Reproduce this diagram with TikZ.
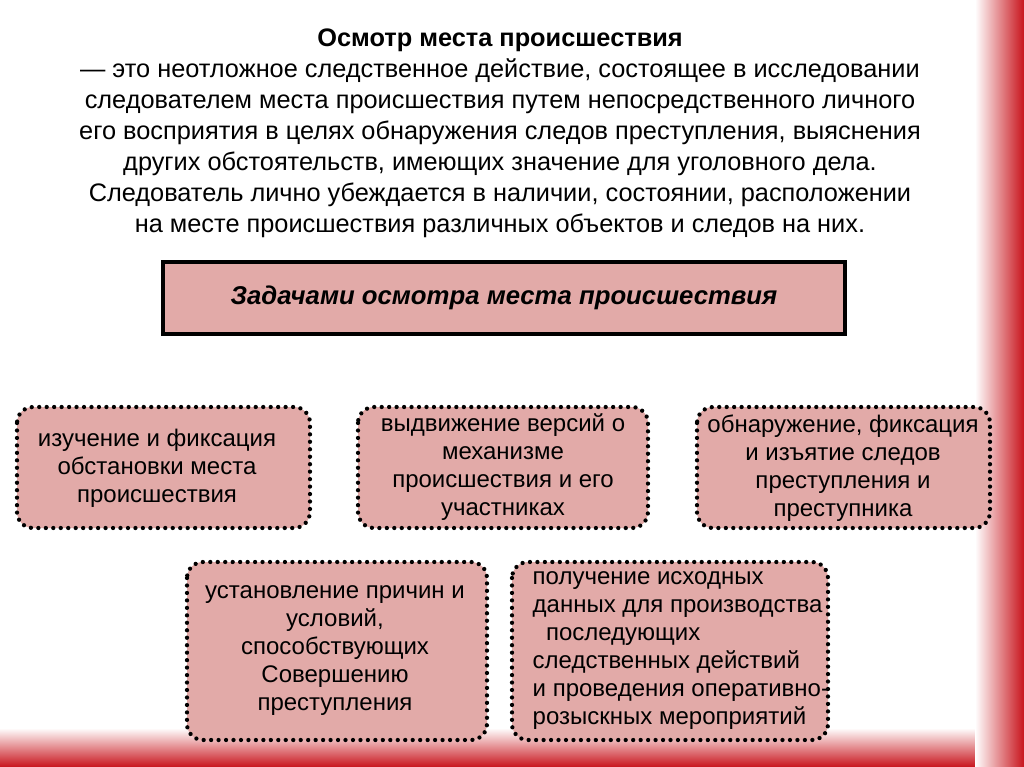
\documentclass[tikz,border=0pt]{standalone}
\usepackage{fontspec}
\setmainfont{Liberation Sans}
\begin{document}
\begin{tikzpicture}[x=0.75pt,y=-0.75pt,
  pinkfill/.style={fill=boxpink},
  dotbox/.style={pinkfill,draw=black,line width=3.2pt,dash pattern=on 0pt off 5.6pt,line cap=round,rounded corners=12pt},
  boxtext/.style={font=\fontsize{18}{21}\selectfont,align=center}]
\definecolor{boxpink}{HTML}{E2AAA8}
\definecolor{edgered}{HTML}{C8141C}
\useasboundingbox (0,0) rectangle (1024,767);
\fill[white] (0,0) rectangle (1024,767);
\shade[top color=white,bottom color=edgered] (0,728) rectangle (1024,767);
\shade[left color=white,right color=edgered] (975,0) rectangle (1024,767);
\node[font=\fontsize{19}{23.2}\selectfont,align=center] (intro) at (500,133)
 {\textbf{Осмотр места происшествия}\\
 — это неотложное следственное действие, состоящее в исследовании\\
 следователем места происшествия путем непосредственного личного\\
 его восприятия в целях обнаружения следов преступления, выяснения\\
 других обстоятельств, имеющих значение для уголовного дела.\\
 Следователь лично убеждается в наличии, состоянии, расположении\\
 на месте происшествия различных объектов и следов на них.};
\draw[pinkfill,line width=2.5pt] (163,262) rectangle (845,334);
\node[font=\fontsize{19.3}{22}\selectfont\bfseries\itshape] (head) at (504,298) {Задачами осмотра места происшествия};
\draw[dotbox] (17,407) rectangle (310,528);
\node[boxtext] (b1) at (157,468) {изучение и фиксация\\обстановки места\\ происшествия};
\draw[dotbox] (358,407) rectangle (648,528);
\node[boxtext] (b2) at (503,467) {выдвижение версий о\\механизме\\происшествия и его\\участниках};
\draw[dotbox] (697,407) rectangle (990,528);
\node[boxtext] (b3) at (843,468) {обнаружение, фиксация\\и изъятие следов\\преступления и\\преступника};
\draw[dotbox] (187,562) rectangle (487,740);
\node[boxtext] (b4) at (335,651) {установление причин и\\условий,\\способствующих\\Совершению\\преступления};
\draw[dotbox] (512,562) rectangle (828,740);
\node[boxtext,align=left,anchor=west] (b5) at (528,651) {получение исходных\\данных для производства\\\ \ последующих\\следственных действий\\и проведения оперативно-\\розыскных мероприятий};
\end{tikzpicture}
\end{document}
